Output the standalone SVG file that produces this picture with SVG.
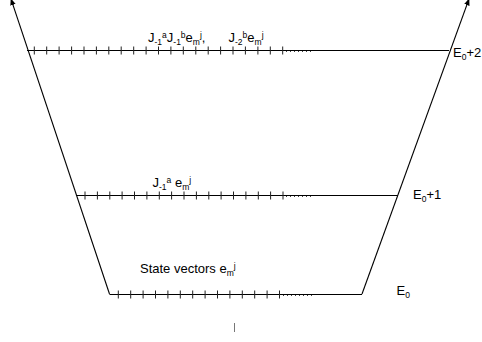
<svg xmlns="http://www.w3.org/2000/svg" width="482" height="342" viewBox="0 0 482 342">
<style>
.ln{stroke:#000;stroke-width:1.1;fill:none}
.tk{stroke:#222;stroke-width:1}
.dt{stroke:#444;stroke-width:1;stroke-dasharray:1 3}
text{font-family:"Liberation Sans",Arial,sans-serif;font-size:13px;fill:#000}
.s{font-size:8.5px}
</style>
<defs>
<marker id="ah" viewBox="0 0 10 10" refX="9" refY="5" markerWidth="7" markerHeight="7" orient="auto" markerUnits="userSpaceOnUse">
<path d="M0,1 L10,5 L0,9 z" fill="#000"/>
</marker>
<path id="t" d="M0,-4 V4" class="tk"/>
</defs>
<rect width="482" height="342" fill="#fff"/>
<g id="connectors">
<line class="ln" x1="109.5" y1="294" x2="11" y2="-1" marker-end="url(#ah)"/>
<line class="ln" x1="362" y1="294" x2="469" y2="-1" marker-end="url(#ah)"/>
</g>
<g id="level2">
<line class="ln" x1="27" y1="50.5" x2="449" y2="50.5"/>
<g transform="translate(0,50.5)">
<use href="#t" x="34.3"/><use href="#t" x="46.7"/><use href="#t" x="59.1"/><use href="#t" x="71.6"/><use href="#t" x="84"/><use href="#t" x="96.4"/><use href="#t" x="108.8"/><use href="#t" x="121.2"/><use href="#t" x="133.7"/><use href="#t" x="146.1"/><use href="#t" x="158.5"/><use href="#t" x="170.9"/><use href="#t" x="183.3"/><use href="#t" x="195.8"/><use href="#t" x="208.2"/><use href="#t" x="220.6"/><use href="#t" x="233"/><use href="#t" x="245.4"/><use href="#t" x="257.9"/><use href="#t" x="270.3"/><use href="#t" x="282.7"/>
</g>
<line class="dt" x1="286" y1="51.5" x2="314" y2="51.5"/>
<text x="148" y="41.5">J<tspan class="s" dy="3">-1</tspan><tspan class="s" dy="-7">a</tspan><tspan dy="4">J</tspan><tspan class="s" dy="3">-1</tspan><tspan class="s" dy="-7">b</tspan><tspan dy="4">e</tspan><tspan class="s" dy="3">m</tspan><tspan class="s" dy="-7">j</tspan><tspan dy="4">,</tspan></text>
<text x="228.5" y="41.5">J<tspan class="s" dy="3">-2</tspan><tspan class="s" dy="-7">b</tspan><tspan dy="4">e</tspan><tspan class="s" dy="3">m</tspan><tspan class="s" dy="-7">j</tspan></text>
<text x="453" y="57">E<tspan class="s" dy="3">0</tspan><tspan dy="-3">+2</tspan></text>
</g>
<g id="level1">
<line class="ln" x1="76" y1="195.5" x2="398" y2="195.5"/>
<g transform="translate(0,195.5)">
<use href="#t" x="85"/><use href="#t" x="97.4"/><use href="#t" x="109.8"/><use href="#t" x="122.1"/><use href="#t" x="134.5"/><use href="#t" x="146.9"/><use href="#t" x="159.3"/><use href="#t" x="171.6"/><use href="#t" x="184"/><use href="#t" x="196.4"/><use href="#t" x="208.8"/><use href="#t" x="221.1"/><use href="#t" x="233.5"/><use href="#t" x="245.9"/><use href="#t" x="258.3"/><use href="#t" x="270.6"/><use href="#t" x="283"/>
</g>
<line class="dt" x1="286" y1="196.5" x2="314" y2="196.5"/>
<text x="152.5" y="187">J<tspan class="s" dy="3">-1</tspan><tspan class="s" dy="-7">a</tspan><tspan dy="4"> e</tspan><tspan class="s" dy="3">m</tspan><tspan class="s" dy="-7">j</tspan></text>
<text x="413" y="198.5">E<tspan class="s" dy="3">0</tspan><tspan dy="-3">+1</tspan></text>
</g>
<g id="level0">
<line class="ln" x1="109.5" y1="294.5" x2="362" y2="294.5"/>
<g transform="translate(0,294.5)">
<use href="#t" x="118.3"/><use href="#t" x="130.7"/><use href="#t" x="143.1"/><use href="#t" x="155.5"/><use href="#t" x="167.9"/><use href="#t" x="180.3"/><use href="#t" x="192.7"/><use href="#t" x="205.1"/><use href="#t" x="217.5"/><use href="#t" x="229.9"/><use href="#t" x="242.3"/><use href="#t" x="254.7"/><use href="#t" x="267.1"/><use href="#t" x="279.5"/>
</g>
<line class="dt" x1="283" y1="295.5" x2="313" y2="295.5"/>
<text x="140" y="272.5">State vectors e<tspan class="s" dy="3">m</tspan><tspan class="s" dy="-7">j</tspan></text>
<text x="396.5" y="295">E<tspan class="s" dy="3">0</tspan></text>
</g>
<line x1="234.5" y1="323" x2="234.5" y2="332" stroke="#777" stroke-width="1"/>
</svg>
